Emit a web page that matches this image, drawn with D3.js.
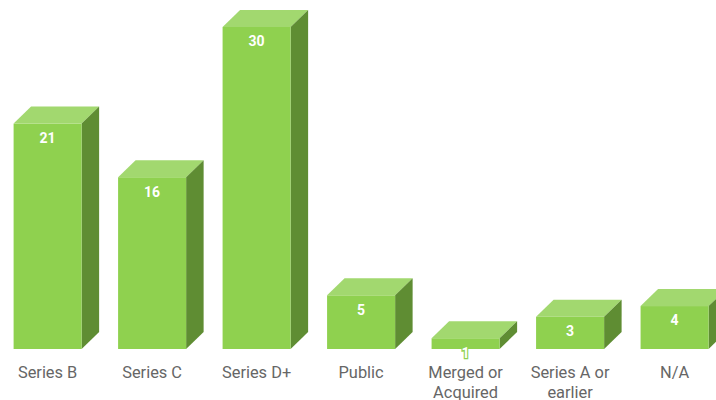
<!DOCTYPE html>
<html><head><meta charset="utf-8">
<script src="https://cdn.jsdelivr.net/npm/d3@7/dist/d3.min.js"></script>
<style>html,body{margin:0;padding:0;background:#fff}svg{display:block}text{font-family:Roboto,sans-serif}</style>
</head><body><svg id="c" width="716" height="400"></svg>
<script>
const categories = ["Series B","Series C","Series D+","Public","Merged or|Acquired","Series A or|earlier","N/A"];
const values = [21,16,30,5,1,3,4];
const svg = d3.select("#c");
const x = d3.scaleBand().domain(categories).range([13.6,708.6]).paddingInner(0.349).paddingOuter(0);
const y = d3.scaleLinear().domain([0,30]).range([349,27]);
const dx = 17.5, dy = 17;
const g = svg.selectAll("g.bar").data(categories.map((c,i)=>({c,v:values[i]}))).join("g").attr("class","bar");
const poly = pts => pts.map(p=>p.join(",")).join(" ");
g.append("polygon").attr("fill","#a2d86f").attr("points",d=>{
  const l=x(d.c),r=l+x.bandwidth(),t=y(d.v);
  return poly([[l,t],[l+dx,t-dy],[r+dx,t-dy],[r,t]]);
});
g.append("polygon").attr("fill","#5f8d33").attr("points",d=>{
  const r=x(d.c)+x.bandwidth(),t=y(d.v),b=y(0);
  return poly([[r,t],[r+dx,t-dy],[r+dx,b-dy],[r,b]]);
});
g.append("rect").attr("fill","#8fd14f")
  .attr("x",d=>x(d.c)).attr("y",d=>y(d.v)).attr("width",x.bandwidth()).attr("height",d=>y(0)-y(d.v));
g.append("text").attr("text-anchor","middle")
  .attr("x",d=>x(d.c)+x.bandwidth()/2).attr("y",d=>y(d.v)+19.4)
  .attr("font-size",14).attr("font-weight",700).attr("fill","#fff")
  .attr("stroke",d=>d.v===1?"#8fd14f":"none").attr("stroke-width",2.4).attr("paint-order","stroke")
  .text(d=>d.v);
const lab = g.append("text").attr("text-anchor","middle").attr("font-size",16.4).attr("fill","#666");
lab.selectAll("tspan").data(d=>d.c.split("|").map(t=>({t,x:x(d.c)+x.bandwidth()/2})))
  .join("tspan").attr("x",d=>d.x).attr("y",(d,i)=>378+i*19.5).text(d=>d.t);
</script></body></html>
